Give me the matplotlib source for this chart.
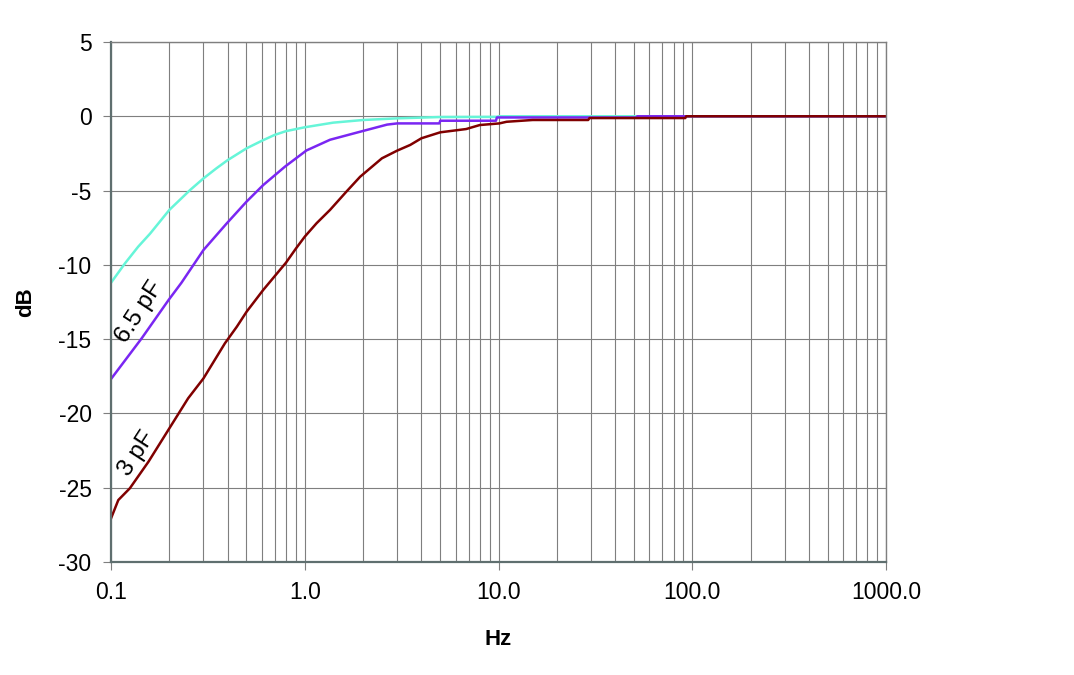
import numpy as np
import matplotlib.pyplot as plt
from matplotlib.ticker import FixedLocator, LogLocator, NullFormatter

plt.rcParams['font.family'] = ['Liberation Sans', 'DejaVu Sans']
plt.rcParams['axes.unicode_minus'] = False

# values (Hz, dB)
freq_cyan = [0.1, 0.118, 0.138, 0.159, 0.2, 0.256, 0.3, 0.35, 0.4, 0.5, 0.6,
             0.7, 0.8, 1.0, 1.4, 2.0, 3.0, 5.0, 9.8, 10.0, 1000.0]
db_cyan = [-11.2, -9.9, -8.78, -7.9, -6.3, -4.96, -4.18, -3.5, -2.95, -2.16, -1.65,
           -1.25, -1.0, -0.74, -0.43, -0.25, -0.14, -0.05, -0.04, 0.0, 0.0]

freq_purple = [0.1, 0.144, 0.198, 0.231, 0.3, 0.35, 0.396, 0.5, 0.61, 0.79, 1.02, 1.35,
               1.93, 2.66, 3.0, 4.95, 5.0, 9.7, 9.8, 51.5, 52.0, 1000.0]
db_purple = [-17.68, -14.94, -12.37, -11.2, -9.0, -8.0, -7.2, -5.75, -4.63, -3.39, -2.3,
             -1.58, -1.04, -0.56, -0.48, -0.48, -0.3, -0.3, -0.08, -0.08, 0.0, 0.0]

freq_red = [0.1, 0.109, 0.125, 0.156, 0.2, 0.25, 0.3, 0.387, 0.446, 0.501, 0.61,
            0.8, 0.9, 1.0, 1.15, 1.35, 1.64, 1.93, 2.5, 3.0, 3.5, 4.0, 5.0, 6.8, 8.0,
            10.1, 11.0, 15.0, 29.0, 29.5, 92.0, 93.0, 1000.0]
db_red = [-27.06, -25.83, -25.04, -23.25, -21.0, -18.98, -17.64, -15.28, -14.16, -13.15,
          -11.69, -9.85, -8.9, -8.1, -7.2, -6.3, -5.07, -4.07, -2.83, -2.31, -1.93,
          -1.48, -1.08, -0.86, -0.59, -0.48, -0.37, -0.25, -0.25, -0.12, -0.12, 0.0, 0.0]

x_ticks = [0.1, 1.0, 10.0, 100.0, 1000.0]
x_tick_labels = ['0.1', '1.0', '10.0', '100.0', '1000.0']
y_ticks = [5, 0, -5, -10, -15, -20, -25, -30]

fig = plt.figure(figsize=(10.74, 6.75), dpi=100)
ax = fig.add_axes([0.1034, 0.1674, 0.7216, 0.7704])

ax.plot(freq_cyan, db_cyan, color='#66f5d8', lw=1.8)
ax.plot(freq_purple, db_purple, color='#7a26f2', lw=1.8)
ax.plot(freq_red, db_red, color='#800000', lw=1.8)

ax.set_xscale('log')
ax.set_xlim(0.1, 1000)
ax.set_ylim(-30, 5)
ax.xaxis.set_major_locator(FixedLocator(x_ticks))
ax.set_xticklabels(x_tick_labels)
ax.xaxis.set_minor_locator(LogLocator(base=10, subs=np.arange(2, 10)))
ax.xaxis.set_minor_formatter(NullFormatter())
ax.set_yticks(y_ticks)

ax.grid(True, which='both', axis='x', color='#7f7f7f', lw=0.8)
ax.grid(True, which='major', axis='y', color='#7f7f7f', lw=0.8)
ax.tick_params(axis='both', which='major', labelsize=16.5, length=6, color='#7f7f7f',
               direction='out', pad=8)
ax.tick_params(axis='x', which='minor', length=0)
for s in ax.spines.values():
    s.set_color('#7f7f7f')
    s.set_linewidth(1.0)
ax.spines['left'].set_color('#5f6f6f')
ax.spines['bottom'].set_color('#5f6f6f')
ax.spines['left'].set_linewidth(1.6)
ax.spines['bottom'].set_linewidth(1.6)

ax.set_xlabel('Hz', fontsize=16, fontweight='bold', labelpad=18)
ax.set_ylabel('dB', fontsize=16, fontweight='bold', labelpad=16)

ax.text(0.141, -13.2, '6.5 pF', fontsize=17.5, rotation=57, ha='center', va='center')
ax.text(0.1354, -22.7, '3 pF', fontsize=17.5, rotation=57, ha='center', va='center')

plt.savefig('out.png', dpi=100)
